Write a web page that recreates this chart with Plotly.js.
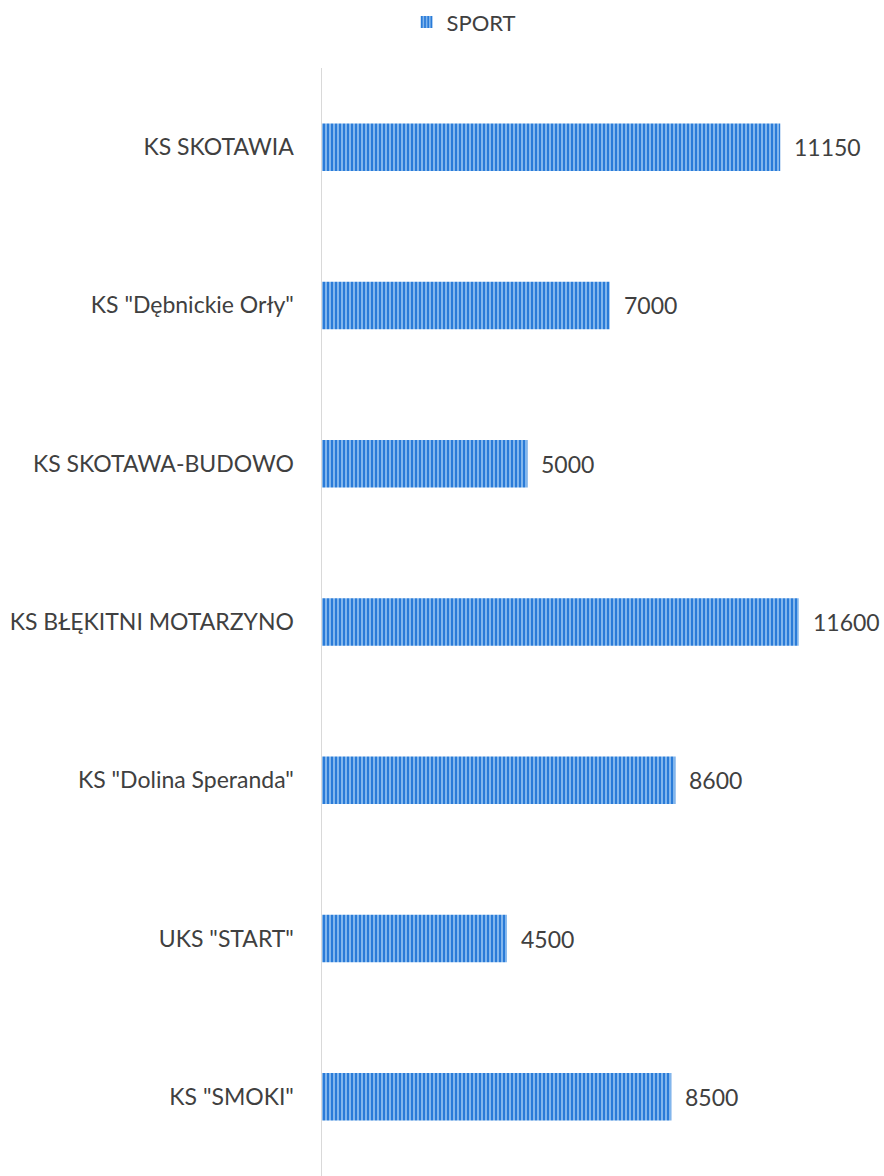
<!DOCTYPE html>
<html>
<head>
<meta charset="utf-8">
<script src="https://cdn.plot.ly/plotly-3.0.1.min.js"></script>
<style>html,body{margin:0;padding:0;background:#fff;}#chart{width:884px;height:1176px;}</style>
</head>
<body>
<div id="chart"></div>
<script>
const categories = ['KS SKOTAWIA', 'KS "Dębnickie Orły"', 'KS SKOTAWA-BUDOWO', 'KS BŁĘKITNI MOTARZYNO', 'KS "Dolina Speranda"', 'UKS "START"', 'KS "SMOKI"'];
const values = [11150, 7000, 5000, 11600, 8600, 4500, 8500];
const seriesName = 'SPORT';

const FONT = 'Lato, "Open Sans", sans-serif';
const trace = {
  type: 'bar',
  orientation: 'h',
  name: seriesName,
  y: categories,
  x: values,
  marker: {
    color: '#3a85da',
    line: {width: 0},
    pattern: {shape: '|', fgcolor: '#2a7bd8', bgcolor: '#a8d0f5', size: 4, solidity: 0.65, fillmode: 'replace'}
  },
  showlegend: true,
  hoverinfo: 'x+y'
};

const annotations = categories.map((c, i) => ({
  x: values[i], y: c, xref: 'x', yref: 'y',
  text: String(values[i]), showarrow: false,
  xanchor: 'left', xshift: 12,
  font: {family: FONT, size: 23, color: '#404040'}
}));

const layout = {
  width: 884, height: 1176,
  margin: {l: 322, r: 0, t: 68, b: 0},
  paper_bgcolor: '#ffffff', plot_bgcolor: '#ffffff',
  bargap: 0.7,
  showlegend: true,
  legend: {orientation: 'h', x: 0.525, xanchor: 'center', xref: 'container',
           y: 0.999, yanchor: 'top', yref: 'container',
           itemwidth: 30,
           font: {family: FONT, size: 22, color: '#404040'}},
  xaxis: {range: [0, 13675], visible: false, showgrid: false, zeroline: false},
  yaxis: {autorange: 'reversed', showline: true, linecolor: '#d9d9d9', linewidth: 1.5,
          ticks: '', ticklabelstandoff: 22, showgrid: false,
          tickfont: {family: FONT, size: 23, color: '#404040'}},
  annotations: annotations
};

Plotly.newPlot('chart', [trace], layout, {displayModeBar: false, staticPlot: true});
</script>
</body>
</html>
